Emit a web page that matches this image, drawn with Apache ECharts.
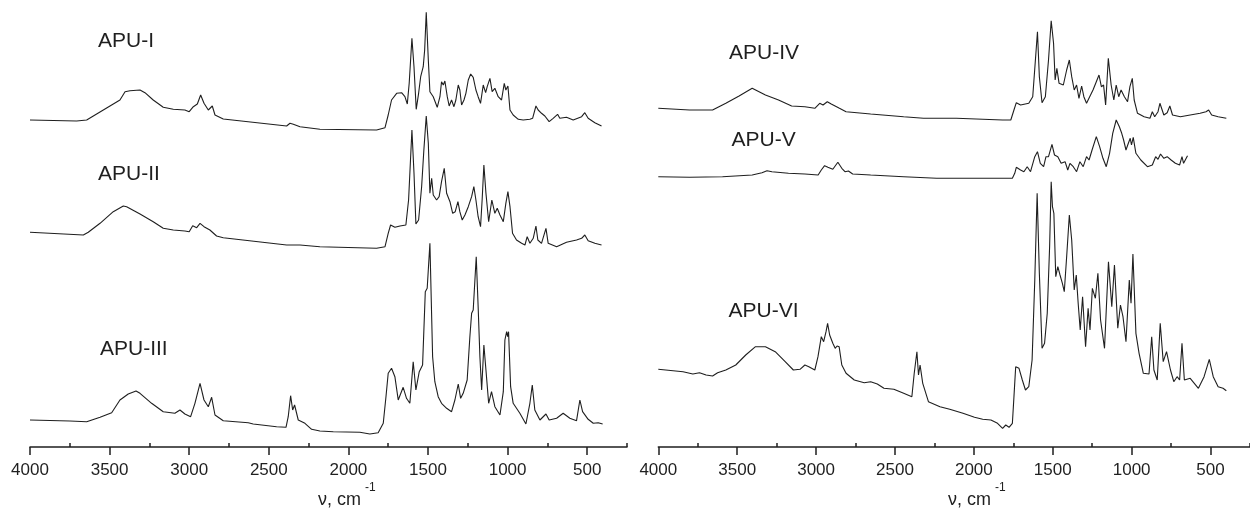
<!DOCTYPE html>
<html>
<head>
<meta charset="utf-8">
<title>FTIR spectra APU-I – APU-VI</title>
<script src="https://cdn.jsdelivr.net/npm/echarts@6/dist/echarts.min.js"></script>
<style>
  html, body { margin: 0; padding: 0; background: #fff; }
  #chart { width: 1250px; height: 521px; }
</style>
</head>
<body>
<div id="chart"></div>
<script>
// Wavenumber axis (cm-1), drawn high to low
const waveMin = 250;
const waveMax = 4000;
const majorTicks = [500, 1000, 1500, 2000, 2500, 3000, 3500, 4000];
const minorTicks = [250, 750, 1250, 1750, 2250, 2750, 3250, 3750];

// Stacked IR spectra, [wavenumber cm-1, absorbance a.u. incl. stacking offset]
const apuI = [[4000,327],[3707,326],[3644,327],[3435,347],[3403,355.3],[3372,356.3],[3309,357],[3278,354.3],[3226,347],[3163,339.7],[3100,337.7],[3027,337],[3000,335.3],[2974,340.3],[2949,343],[2928,352],[2907,343.7],[2880,337],[2855,341],[2838,332],[2786,328],[2388,321],[2367,323.7],[2346,322.7],[2304,320.3],[2179,317.7],[1823,317],[1770,319.3],[1750,332],[1729,347],[1697,353.7],[1666,354.3],[1645,350.3],[1630,343],[1618,364],[1601,408.7],[1588,380.3],[1574,337.7],[1559,353.7],[1546,370.3],[1530,380.3],[1521,397],[1511,434.7],[1498,387],[1488,355.3],[1467,350.3],[1442,339.7],[1425,350.3],[1415,365.3],[1404,362],[1394,366],[1379,350.3],[1367,341],[1352,347],[1337,340.3],[1325,347],[1310,362],[1300,357],[1289,342],[1274,347],[1262,353.7],[1247,367],[1232,373],[1216,369.7],[1199,357],[1185,350.3],[1170,343.7],[1153,362],[1138,354.3],[1128,360.3],[1111,368.7],[1097,355.3],[1080,358.7],[1059,350.3],[1038,347],[1021,363.7],[1011,357],[998,361],[985,337],[965,332],[933,327.7],[902,327],[860,327.7],[843,328.7],[822,341],[808,337],[787,333.7],[766,331],[739,325.3],[714,328.7],[686,332.7],[672,328.7],[630,329.7],[588,327],[535,330.3],[515,334.3],[494,328.7],[452,324.3],[410,321]];

const apuII = [[4000,214.7],[3665,212],[3634,214.7],[3560,223.7],[3477,235.3],[3414,241],[3393,240.3],[3309,233],[3226,225.3],[3163,218.7],[3100,217],[3027,216],[3000,215.3],[2978,221.3],[2953,219.3],[2932,223.7],[2907,220.3],[2870,217],[2828,211],[2786,209.3],[2388,202],[2304,202],[2179,200.3],[1823,198.7],[1770,200.3],[1750,213.7],[1735,222],[1708,219.7],[1676,221],[1639,222],[1622,247],[1601,317],[1588,274],[1576,223],[1559,227],[1540,260.3],[1526,297],[1511,331],[1498,303.7],[1488,253.7],[1477,268.7],[1467,252],[1446,247],[1430,250.3],[1415,265.3],[1398,278.7],[1383,253.7],[1362,245.3],[1345,233.7],[1329,235.3],[1312,245.3],[1300,235.3],[1285,227],[1268,232],[1247,240.3],[1226,250.3],[1212,260.3],[1199,247],[1185,230.3],[1170,220.3],[1160,247],[1149,282],[1136,253.7],[1119,225.3],[1099,247],[1080,233.7],[1065,238.7],[1048,232],[1027,225.3],[1011,243.7],[998,255.3],[985,240.3],[969,213.7],[944,207],[912,203.7],[891,202],[877,210.3],[860,203.7],[839,208.7],[822,221],[810,207],[787,203.7],[759,218.7],[745,203.7],[692,200.3],[630,204.7],[567,207],[535,208.7],[515,212],[494,206.3],[452,203.7],[410,202]];

const apuIII = [[4000,27],[3749,26],[3644,25.3],[3560,29.7],[3487,34.3],[3435,47],[3383,53],[3334,56],[3309,53.7],[3236,43.7],[3163,35.3],[3090,33.7],[3058,37],[3027,33],[2991,30.3],[2964,43.7],[2932,63.7],[2907,47],[2880,40.3],[2859,49.7],[2838,32],[2786,26.3],[2629,24.3],[2598,23],[2451,20.3],[2392,19.7],[2378,30.3],[2363,51.3],[2350,37],[2338,42],[2315,27],[2273,23.7],[2231,17.7],[2179,16],[2095,15.3],[1928,14.7],[1865,13],[1813,14.3],[1781,23.7],[1764,50.3],[1750,73.7],[1729,78.7],[1708,70.3],[1687,47],[1656,59.7],[1635,48.7],[1614,43.7],[1593,85.3],[1576,57],[1555,75.3],[1534,82],[1517,155.3],[1505,158.7],[1488,203.7],[1471,90.3],[1457,65.3],[1436,50.3],[1415,43.7],[1383,38.7],[1352,35.3],[1331,47],[1310,63],[1295,48.7],[1279,53.7],[1254,67],[1237,110.3],[1226,133.7],[1216,137],[1197,190.3],[1185,140.3],[1174,90.3],[1163,57],[1149,102],[1136,77],[1119,43.7],[1101,55.3],[1080,40.3],[1048,32],[1027,55.3],[1017,107],[1006,115.3],[1000,110.3],[994,115.3],[981,60.3],[965,43.7],[923,33.7],[885,23],[860,43.7],[845,62],[829,37],[797,27],[759,33],[739,27],[692,28.7],[651,33.7],[609,28.7],[567,26.3],[546,47],[529,35.3],[494,27.7],[462,23.7],[431,24.3],[403,23]];

const apuIV = [[4000,338.7],[3802,337],[3656,337],[3572,343.7],[3488,351],[3405,358.7],[3321,352],[3238,347],[3155,341],[3071,340.3],[3008,338.7],[2977,343.7],[2956,342],[2929,345.3],[2904,343],[2852,338.7],[2810,335.3],[2654,333],[2445,330.3],[2319,328.7],[2111,328.7],[1818,327],[1766,327],[1746,337],[1731,344.3],[1704,342],[1652,343.7],[1627,350.3],[1597,415.3],[1585,370.3],[1568,344.3],[1547,350.3],[1527,387],[1510,426.3],[1495,403.7],[1485,367],[1474,378.7],[1460,363.7],[1433,362],[1412,377],[1395,387],[1380,370.3],[1364,357],[1349,362],[1334,348.7],[1317,361],[1303,350.3],[1286,343.7],[1266,350.3],[1245,357],[1224,365.3],[1207,372],[1192,360.3],[1178,362],[1165,342],[1148,388.7],[1130,362],[1113,347],[1098,362],[1082,350.3],[1067,357],[1046,350.3],[1026,345.3],[1011,360.3],[996,368.7],[984,347],[963,333.7],[921,330.3],[884,328.7],[869,335.3],[854,330.3],[833,335.3],[821,343.7],[796,332],[775,334.3],[758,341],[741,332],[691,330.3],[629,332],[566,333.7],[529,335.3],[512,337],[493,332],[452,330.3],[400,328.7]];

const apuV = [[4000,270.3],[3802,269.7],[3593,270.3],[3405,272],[3343,274.3],[3311,276.3],[3280,275.3],[3175,273.7],[3071,273],[2987,272],[2967,277],[2946,281.3],[2925,279.7],[2894,277.7],[2862,284.7],[2837,278.7],[2817,275.3],[2795,276],[2768,273],[2654,272],[2445,270.3],[2236,268.7],[1756,268.7],[1741,273.7],[1731,279.7],[1704,277],[1683,275.3],[1662,280.3],[1641,275.3],[1614,290.3],[1597,295.3],[1579,283.7],[1558,280.3],[1543,290.3],[1527,290.3],[1505,302.7],[1489,292],[1468,290.3],[1447,283.7],[1422,285.3],[1405,277],[1391,283.7],[1370,280.3],[1349,275.3],[1328,285.3],[1307,280.3],[1286,290.3],[1270,287],[1251,297],[1224,310.3],[1203,300.3],[1182,288.7],[1161,280.3],[1140,293.7],[1120,313.7],[1098,327],[1078,320.3],[1063,313.7],[1051,307],[1036,297],[1021,303.7],[1009,308.7],[1001,302],[990,309.7],[973,293.7],[942,287],[900,280.3],[869,282],[848,290.3],[833,287.7],[817,293],[796,288.7],[775,290.3],[750,287],[723,283.7],[696,282],[681,290.3],[671,283.7],[646,291.3]];

const apuVI = [[4000,77.7],[3906,76.3],[3843,75.3],[3781,73],[3739,74.3],[3697,72],[3656,71],[3624,74.3],[3572,77],[3509,82],[3446,92],[3384,100.3],[3321,100.3],[3259,95.3],[3196,85.3],[3144,77],[3102,77.7],[3071,82],[3046,80.3],[3008,77],[2988,90.3],[2967,110.3],[2952,105.3],[2937,115.3],[2927,123.7],[2914,112],[2894,103.7],[2879,98.7],[2867,101],[2854,100.3],[2837,82],[2810,73.7],[2758,67],[2695,64.3],[2654,65.3],[2612,63],[2570,58.7],[2507,57.7],[2445,53.7],[2393,50.3],[2378,73.7],[2361,95.3],[2351,72],[2341,82],[2324,63.7],[2288,45.3],[2215,40.3],[2153,37.7],[2069,33.7],[1996,29.7],[1944,27.7],[1892,27],[1850,23.7],[1818,18.7],[1798,22],[1777,19.7],[1756,23.7],[1746,50.3],[1735,80.3],[1714,78.7],[1693,67],[1673,57],[1652,60.3],[1631,87],[1614,167],[1599,253.7],[1585,173.7],[1568,98.7],[1552,103.7],[1535,133.7],[1520,200.3],[1510,265.3],[1502,240.3],[1493,233.7],[1481,170.3],[1468,180.3],[1454,172],[1439,163.7],[1427,155.3],[1412,190.3],[1395,232],[1380,207],[1364,157],[1351,172],[1339,143.7],[1326,117],[1311,150.3],[1292,100.3],[1276,138.7],[1264,117],[1249,158.7],[1230,148.7],[1214,173.7],[1197,127],[1172,98.7],[1147,185.3],[1126,140.3],[1109,182],[1088,118.7],[1071,142],[1055,130.3],[1036,105.3],[1015,167],[1004,143.7],[992,193],[973,113.7],[953,93.7],[926,73.7],[890,73],[873,110.3],[859,77],[838,67],[819,123.7],[800,85.3],[779,95.3],[754,77],[733,65.3],[712,70.3],[696,67],[681,103.7],[666,67],[629,68.7],[577,58.7],[541,70.3],[508,87.7],[483,70.3],[452,60.3],[421,58.7],[400,56.3]];

const sampleNames = ['APU-I', 'APU-II', 'APU-III', 'APU-IV', 'APU-V', 'APU-VI'];
const axisTitle = 'ν, cm';
const axisTitleSup = '-1';

const INK = '#1f1f1f';
const FONT = '"Liberation Sans", Arial, sans-serif';

function waveAxes(gridIndex) {
  return [
    {
      type: 'value', gridIndex, min: waveMin, max: waveMax, inverse: true,
      axisLine: { show: true, onZero: false, lineStyle: { color: INK, width: 1.5 } },
      axisTick: { show: true, customValues: majorTicks, length: 8, lineStyle: { color: INK, width: 1.5 } },
      axisLabel: {
        show: true, customValues: majorTicks, color: INK, fontSize: 17, fontFamily: FONT, margin: 15,
        formatter: (v) => String(v)
      },
      splitLine: { show: false }
    },
    {
      type: 'value', gridIndex, min: waveMin, max: waveMax, inverse: true,
      axisLine: { show: false },
      axisTick: { show: true, customValues: minorTicks, length: 4, lineStyle: { color: INK, width: 1.5 } },
      axisLabel: { show: false },
      splitLine: { show: false }
    }
  ];
}

function spectrum(name, data, xAxisIndex, yAxisIndex) {
  return {
    name, type: 'line', data, xAxisIndex, yAxisIndex,
    showSymbol: false, symbol: 'none', smooth: false, silent: true,
    lineStyle: { color: INK, width: 1.1 }
  };
}

function sampleLabel(text, x, y) {
  return {
    type: 'text', x, y,
    style: { text, fill: INK, font: '21px ' + FONT, textVerticalAlign: 'middle' }
  };
}

function titleParts(x) {
  return [
    { type: 'text', x, y: 500, style: { text: axisTitle, fill: INK, font: '18px ' + FONT, textVerticalAlign: 'middle' } },
    { type: 'text', x: x + 47, y: 488, style: { text: axisTitleSup, fill: INK, font: '12px ' + FONT, textVerticalAlign: 'middle' } }
  ];
}

const chart = echarts.init(document.getElementById('chart'), null, { renderer: 'canvas' });

chart.setOption({
  animation: false,
  backgroundColor: '#ffffff',
  grid: [
    { left: 30, top: 0, width: 597, height: 447, containLabel: false },
    { left: 658.3, top: 0, width: 599, height: 447, containLabel: false }
  ],
  xAxis: [...waveAxes(0), ...waveAxes(1)],
  yAxis: [
    { type: 'value', gridIndex: 0, min: 0, max: 447, show: false },
    { type: 'value', gridIndex: 1, min: 0, max: 447, show: false }
  ],
  series: [
    spectrum(sampleNames[0], apuI, 0, 0),
    spectrum(sampleNames[1], apuII, 0, 0),
    spectrum(sampleNames[2], apuIII, 0, 0),
    spectrum(sampleNames[3], apuIV, 2, 1),
    spectrum(sampleNames[4], apuV, 2, 1),
    spectrum(sampleNames[5], apuVI, 2, 1)
  ],
  graphic: [
    sampleLabel(sampleNames[0], 98, 41),
    sampleLabel(sampleNames[1], 98, 174),
    sampleLabel(sampleNames[2], 100, 349.5),
    sampleLabel(sampleNames[3], 729, 53),
    sampleLabel(sampleNames[4], 731.5, 140.5),
    sampleLabel(sampleNames[5], 728.5, 311),
    ...titleParts(318),
    ...titleParts(948)
  ]
});
</script>
</body>
</html>
